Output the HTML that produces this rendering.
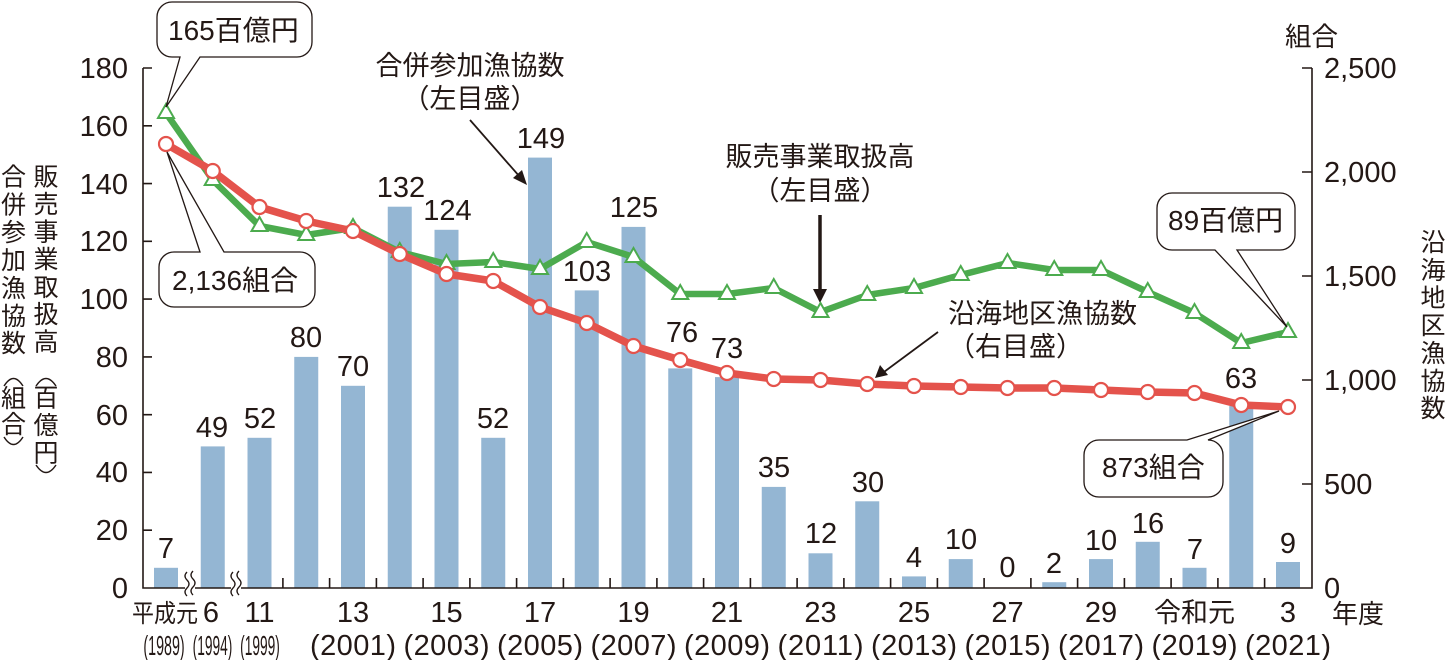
<!DOCTYPE html>
<html><head><meta charset="utf-8"><style>
html,body{margin:0;padding:0;background:#fff;}
svg{display:block;}
text{font-family:"Liberation Sans","Noto Sans CJK JP",sans-serif;fill:#231815;}
.j{font-family:"Noto Sans CJK JP","Liberation Sans",sans-serif;}
</style></head><body>
<svg width="1446" height="660" viewBox="0 0 1446 660" xmlns="http://www.w3.org/2000/svg">
<rect width="1446" height="660" fill="#fff"/>
<!-- bars -->
<g fill="#94b6d3">
<rect x="154" y="567.8" width="24" height="20.2"/>
<rect x="200.75" y="446.4" width="24" height="141.6"/>
<rect x="247.5" y="437.8" width="24" height="150.2"/>
<rect x="294.25" y="356.9" width="24" height="231.1"/>
<rect x="341" y="385.8" width="24" height="202.2"/>
<rect x="387.75" y="206.7" width="24" height="381.3"/>
<rect x="434.5" y="229.8" width="24" height="358.2"/>
<rect x="481.25" y="437.8" width="24" height="150.2"/>
<rect x="528" y="157.6" width="24" height="430.4"/>
<rect x="574.75" y="290.4" width="24" height="297.6"/>
<rect x="621.5" y="226.9" width="24" height="361.1"/>
<rect x="668.25" y="368.4" width="24" height="219.6"/>
<rect x="715" y="377.1" width="24" height="210.9"/>
<rect x="761.75" y="486.9" width="24" height="101.1"/>
<rect x="808.5" y="553.3" width="24" height="34.7"/>
<rect x="855.25" y="501.3" width="24" height="86.7"/>
<rect x="902" y="576.4" width="24" height="11.6"/>
<rect x="948.75" y="559.1" width="24" height="28.9"/>
<rect x="1042.25" y="582.2" width="24" height="5.8"/>
<rect x="1089" y="559.1" width="24" height="28.9"/>
<rect x="1135.75" y="541.8" width="24" height="46.2"/>
<rect x="1182.5" y="567.8" width="24" height="20.2"/>
<rect x="1229.25" y="406" width="24" height="182"/>
<rect x="1276" y="562" width="24" height="26"/>
</g>
<!-- bar labels -->
<g font-size="29" text-anchor="middle">
<text x="166" y="558">7</text>
<text x="212" y="437">49</text>
<text x="260" y="428">52</text>
<text x="306" y="347">80</text>
<text x="353" y="376">70</text>
<text x="401" y="197">132</text>
<text x="447.5" y="220">124</text>
<text x="493" y="428">52</text>
<text x="541" y="148">149</text>
<text x="587" y="281">103</text>
<text x="634" y="217">125</text>
<text x="682" y="342">76</text>
<text x="727" y="358">73</text>
<text x="774" y="477">35</text>
<text x="821" y="543">12</text>
<text x="868" y="492">30</text>
<text x="914" y="567">4</text>
<text x="961" y="549">10</text>
<text x="1007.5" y="577">0</text>
<text x="1054" y="573">2</text>
<text x="1101" y="550">10</text>
<text x="1148" y="533">16</text>
<text x="1195" y="559">7</text>
<text x="1241" y="388">63</text>
<text x="1288" y="553">9</text>
</g>
<!-- axes -->
<g stroke="#231815" stroke-width="1.6" fill="none">
<path d="M143,68 V588 H1312 V68"/>
<path d="M143,68 H152 M143,125.8 H152 M143,183.6 H152 M143,241.3 H152 M143,299.1 H152 M143,356.9 H152 M143,414.7 H152 M143,472.4 H152 M143,530.2 H152"/>
<path d="M1312,68 H1302 M1312,172 H1302 M1312,276 H1302 M1312,380 H1302 M1312,484 H1302"/>
<path d="M282.9,588 V578 M329.6,588 V578 M376.4,588 V578 M423.1,588 V578 M469.9,588 V578 M516.6,588 V578 M563.4,588 V578 M610.1,588 V578 M656.9,588 V578 M703.6,588 V578 M750.4,588 V578 M797.1,588 V578 M843.9,588 V578 M890.6,588 V578 M937.4,588 V578 M984.1,588 V578 M1030.9,588 V578 M1077.6,588 V578 M1124.4,588 V578 M1171.1,588 V578 M1217.9,588 V578 M1264.6,588 V578"/>
</g>
<!-- break marks -->
<rect x="185" y="584" width="10" height="8" fill="#fff"/>
<rect x="231" y="584" width="10" height="8" fill="#fff"/>
<g stroke="#231815" stroke-width="1.3" fill="none">
<path d="M187,572 q-4,4 0,8 t0,8 t0,8"/>
<path d="M193,571 q-4,4 0,8 t0,8 t0,8"/>
<path d="M233,572 q-4,4 0,8 t0,8 t0,8"/>
<path d="M239,571 q-4,4 0,8 t0,8 t0,8"/>
</g>
<!-- tick labels left -->
<g font-size="29" text-anchor="end">
<text x="128" y="78">180</text>
<text x="128" y="136">160</text>
<text x="128" y="194">140</text>
<text x="128" y="251">120</text>
<text x="128" y="309">100</text>
<text x="128" y="367">80</text>
<text x="128" y="425">60</text>
<text x="128" y="482">40</text>
<text x="128" y="540">20</text>
<text x="128" y="598">0</text>
</g>
<g font-size="29">
<text x="1324" y="78">2,500</text>
<text x="1324" y="182">2,000</text>
<text x="1324" y="286">1,500</text>
<text x="1324" y="390">1,000</text>
<text x="1324" y="494">500</text>
<text x="1324" y="598">0</text>
</g>
<!-- x labels -->
<text x="132" y="622" font-size="25" class="j" textLength="66" lengthAdjust="spacingAndGlyphs">平成元</text>
<g font-size="29" text-anchor="middle">
<text x="211" y="622">6</text>
<text x="259.5" y="622">11</text>
<text x="353" y="622">13</text>
<text x="446.5" y="622">15</text>
<text x="540" y="622">17</text>
<text x="633.5" y="622">19</text>
<text x="727" y="622">21</text>
<text x="820.5" y="622">23</text>
<text x="914" y="622">25</text>
<text x="1007.5" y="622">27</text>
<text x="1101" y="622">29</text>
<text x="1288" y="622">3</text>
</g>
<text x="1194.5" y="622" font-size="27" class="j" text-anchor="middle">令和元</text>
<text x="1332" y="623" font-size="26" class="j">年度</text>
<g font-size="28" text-anchor="middle">
<text transform="translate(164,655) scale(0.51,1)">(1989)</text>
<text transform="translate(212.5,655) scale(0.49,1)">(1994)</text>
<text transform="translate(260,655) scale(0.49,1)">(1999)</text>
</g>
<g font-size="29" text-anchor="middle">
<text x="353" y="655" textLength="86">(2001)</text>
<text x="446.5" y="655" textLength="86">(2003)</text>
<text x="540" y="655" textLength="86">(2005)</text>
<text x="633.5" y="655" textLength="86">(2007)</text>
<text x="727" y="655" textLength="86">(2009)</text>
<text x="820.5" y="655" textLength="86">(2011)</text>
<text x="914" y="655" textLength="86">(2013)</text>
<text x="1007.5" y="655" textLength="86">(2015)</text>
<text x="1101" y="655" textLength="86">(2017)</text>
<text x="1194.5" y="655" textLength="86">(2019)</text>
<text x="1288" y="655" textLength="86">(2021)</text>
</g>
<!-- axis titles -->
<text x="1285" y="46" font-size="26.5" class="j">組合</text>
<g font-size="25" class="j" text-anchor="middle">
<text x="13.5" y="185.5">合</text>
<text x="13.5" y="213.5">併</text>
<text x="13.5" y="241">参</text>
<text x="13.5" y="269">加</text>
<text x="13.5" y="297">漁</text>
<text x="13.5" y="325">協</text>
<text x="13.5" y="352">数</text>
<text x="13.5" y="407">組</text>
<text x="13.5" y="433">合</text>
<text x="46" y="185.5">販</text>
<text x="46" y="213">売</text>
<text x="46" y="240.5">事</text>
<text x="46" y="268">業</text>
<text x="46" y="296">取</text>
<text x="46" y="323">扱</text>
<text x="46" y="350.5">高</text>
<text x="46" y="406.5">百</text>
<text x="46" y="434">億</text>
<text x="46" y="461.5">円</text>
<text x="1433" y="251">沿</text>
<text x="1433" y="279">海</text>
<text x="1433" y="306.5">地</text>
<text x="1433" y="334">区</text>
<text x="1433" y="362">漁</text>
<text x="1433" y="390">協</text>
<text x="1433" y="417">数</text>
</g>
<g stroke="#231815" stroke-width="1.4" fill="none">
<path d="M4,386 Q13.5,371 23,386"/>
<path d="M4,437 Q13.5,452 23,437"/>
<path d="M36,386 Q46,371 56,386"/>
<path d="M36,465 Q46,480 56,465"/>
</g>
<!-- annotations -->
<g font-size="27" class="j">
<text x="470" y="75" text-anchor="middle">合併参加漁協数</text>
<text x="470" y="108" text-anchor="middle">（左目盛）</text>
<text x="820" y="166" text-anchor="middle">販売事業取扱高</text>
<text x="820" y="200" text-anchor="middle">（左目盛）</text>
<text x="948" y="323">沿海地区漁協数</text>
<text x="948" y="356">（右目盛）</text>
</g>
<g stroke="#231815" fill="none">
<path d="M470,120 L520,177" stroke-width="1.8"/>
<path d="M820,215 V292" stroke-width="3.5"/>
<path d="M938,332 L884,372" stroke-width="1.8"/>
</g>
<g fill="#231815">
<path d="M527,185 L513,178 L522,170 Z"/>
<path d="M820,303 L813,289 L827,289 Z"/>
<path d="M875,378 L880,365 L888,375 Z"/>
</g>
<!-- green line -->
<polyline fill="none" stroke="#4cab4e" stroke-width="6.5" stroke-linejoin="round" points="166,113 212.75,180 259.5,226 306.25,235 353,228 399.75,252 446.5,264 493.25,262 540,269 586.75,242 633.5,257 680.25,294 727,294 773.75,288 820.5,312 867.25,295 914,288 960.75,275 1007.5,263 1054.25,270 1101,270 1147.75,292 1194.5,313 1241.25,343 1288,332"/>
<g fill="#fff" stroke="#4cab4e" stroke-width="2">
<polygon points="166,104 158,118 174,118"/>
<polygon points="212.75,171 204.75,185 220.75,185"/>
<polygon points="259.5,217 251.5,231 267.5,231"/>
<polygon points="306.25,226 298.25,240 314.25,240"/>
<polygon points="353,219 345,233 361,233"/>
<polygon points="399.75,243 391.75,257 407.75,257"/>
<polygon points="446.5,255 438.5,269 454.5,269"/>
<polygon points="493.25,253 485.25,267 501.25,267"/>
<polygon points="540,260 532,274 548,274"/>
<polygon points="586.75,233 578.75,247 594.75,247"/>
<polygon points="633.5,248 625.5,262 641.5,262"/>
<polygon points="680.25,285 672.25,299 688.25,299"/>
<polygon points="727,285 719,299 735,299"/>
<polygon points="773.75,279 765.75,293 781.75,293"/>
<polygon points="820.5,303 812.5,317 828.5,317"/>
<polygon points="867.25,286 859.25,300 875.25,300"/>
<polygon points="914,279 906,293 922,293"/>
<polygon points="960.75,266 952.75,280 968.75,280"/>
<polygon points="1007.5,254 999.5,268 1015.5,268"/>
<polygon points="1054.25,261 1046.25,275 1062.25,275"/>
<polygon points="1101,261 1093,275 1109,275"/>
<polygon points="1147.75,283 1139.75,297 1155.75,297"/>
<polygon points="1194.5,304 1186.5,318 1202.5,318"/>
<polygon points="1241.25,334 1233.25,348 1249.25,348"/>
<polygon points="1288,323 1280,337 1296,337"/>
</g>
<!-- red line -->
<polyline fill="none" stroke="#e4534c" stroke-width="7.5" stroke-linejoin="round" points="166,144 212.75,171 259.5,207 306.25,221 353,231 399.75,254 446.5,274 493.25,281 540,307 586.75,323 633.5,346 680.25,360 727,373 773.75,379 820.5,380 867.25,384 914,386 960.75,387 1007.5,388 1054.25,388 1101,390 1147.75,392 1194.5,393 1241.25,405 1288,407"/>
<g fill="#fff" stroke="#e4534c" stroke-width="2.2">
<circle cx="166" cy="144" r="7"/>
<circle cx="212.75" cy="171" r="7"/>
<circle cx="259.5" cy="207" r="7"/>
<circle cx="306.25" cy="221" r="7"/>
<circle cx="353" cy="231" r="7"/>
<circle cx="399.75" cy="254" r="7"/>
<circle cx="446.5" cy="274" r="7"/>
<circle cx="493.25" cy="281" r="7"/>
<circle cx="540" cy="307" r="7"/>
<circle cx="586.75" cy="323" r="7"/>
<circle cx="633.5" cy="346" r="7"/>
<circle cx="680.25" cy="360" r="7"/>
<circle cx="727" cy="373" r="7"/>
<circle cx="773.75" cy="379" r="7"/>
<circle cx="820.5" cy="380" r="7"/>
<circle cx="867.25" cy="384" r="7"/>
<circle cx="914" cy="386" r="7"/>
<circle cx="960.75" cy="387" r="7"/>
<circle cx="1007.5" cy="388" r="7"/>
<circle cx="1054.25" cy="388" r="7"/>
<circle cx="1101" cy="390" r="7"/>
<circle cx="1147.75" cy="392" r="7"/>
<circle cx="1194.5" cy="393" r="7"/>
<circle cx="1241.25" cy="405" r="7"/>
<circle cx="1288" cy="407" r="7"/>
</g>
<!-- callouts -->
<g fill="#fff" stroke="#231815" stroke-width="1.3">
<path d="M172,2 H297 A15,15 0 0 1 312,17 V42 A15,15 0 0 1 297,57 H200 L166,107 L180,57 H172 A15,15 0 0 1 157,42 V17 A15,15 0 0 1 172,2 Z"/>
<path d="M174,252 H200 L167,152 L224,252 H300 A15,15 0 0 1 315,267 V292 A15,15 0 0 1 300,307 H174 A15,15 0 0 1 159,292 V267 A15,15 0 0 1 174,252 Z"/>
<path d="M1172,193 H1280 A15,15 0 0 1 1295,208 V235 A15,15 0 0 1 1280,250 H1237 L1287,327 L1215,250 H1172 A15,15 0 0 1 1157,235 V208 A15,15 0 0 1 1172,193 Z"/>
<path d="M1099,440 H1187 L1279,411 L1208,440 A15,15 0 0 1 1223,455 V482 A15,15 0 0 1 1208,497 H1099 A15,15 0 0 1 1084,482 V455 A15,15 0 0 1 1099,440 Z"/>
</g>
<g font-size="28">
<text x="168" y="40">165百億円</text>
<text x="172" y="290">2,136組合</text>
<text x="1168" y="230">89百億円</text>
<text x="1102" y="477">873組合</text>
</g>
</svg>
</body></html>
